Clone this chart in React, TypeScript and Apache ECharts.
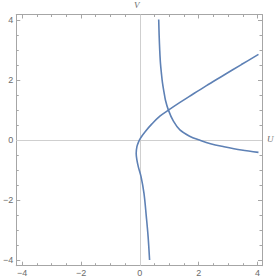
import React, { useEffect, useRef } from "react";
import * as echarts from "echarts";

// Curve 1 (decreasing branch), points as [U, V]
const curve1: [number, number][] = [
  [0.64, 4.02], [0.655, 3.5], [0.675, 3.0], [0.7, 2.56], [0.735, 2.2], [0.77, 1.9],
  [0.82, 1.6], [0.87, 1.33], [0.97, 1.0], [1.14, 0.63], [1.36, 0.34], [1.69, 0.13],
  [2.03, 0.0], [2.4, -0.12], [2.86, -0.22], [3.45, -0.33], [4.03, -0.41],
];

// Curve 2 (S-shaped branch), points as [U, V]
const curve2: [number, number][] = [
  [0.33, -4.0], [0.28, -3.22], [0.22, -2.56], [0.14, -1.78], [0.04, -1.22],
  [-0.05, -0.9], [-0.1, -0.67], [-0.125, -0.45], [-0.1, -0.22], [-0.04, -0.05],
  [0.03, 0.08], [0.18, 0.28], [0.41, 0.54], [0.68, 0.8], [0.97, 1.0], [1.35, 1.25],
  [1.67, 1.45], [2.25, 1.81], [2.86, 2.17], [3.45, 2.52], [4.03, 2.86],
];

const majorTicks = [-4, -2, 0, 2, 4];
const minorTicks = [-4, -3.5, -3, -2.5, -2, -1.5, -1, -0.5, 0, 0.5, 1, 1.5, 2, 2.5, 3, 3.5, 4];

const X_MIN = -4.2, X_MAX = 4.15, Y_MIN = -4.19, Y_MAX = 4.19;
const FRAME = "#a6a6a6";
const LABEL = "#6b6b6b";
const CURVE = "#5E81B5";

const fmt = (v: number) => (v < 0 ? "\u2212" + Math.abs(v) : String(v));

function makeAxis(kind: "x" | "y", position: string, major: boolean, labels: boolean) {
  return {
    type: "value",
    position,
    min: kind === "x" ? X_MIN : Y_MIN,
    max: kind === "x" ? X_MAX : Y_MAX,
    axisLine: { show: major, onZero: false, lineStyle: { color: FRAME, width: 1 } },
    axisTick: {
      show: true,
      inside: true,
      length: major ? 4 : 2.5,
      customValues: major ? majorTicks : minorTicks,
      lineStyle: { color: FRAME, width: 1 },
    },
    axisLabel: {
      show: labels,
      customValues: majorTicks,
      formatter: fmt,
      color: LABEL,
      fontSize: 9,
      fontFamily: "Liberation Sans",
      margin: 3,
    },
    splitLine: { show: false },
  };
}

export default function App() {
  const ref = useRef<HTMLDivElement>(null);
  useEffect(() => {
    if (!ref.current) return;
    const chart = echarts.init(ref.current, null, { renderer: "svg" });
    chart.setOption({
      animation: false,
      backgroundColor: "#ffffff",
      grid: { left: 11.5, right: 13, top: 14.5, bottom: 13.3, containLabel: false },
      xAxis: [
        makeAxis("x", "bottom", true, true),
        makeAxis("x", "bottom", false, false),
        makeAxis("x", "top", true, false),
        makeAxis("x", "top", false, false),
      ],
      yAxis: [
        makeAxis("y", "left", true, true),
        makeAxis("y", "left", false, false),
        makeAxis("y", "right", true, false),
        makeAxis("y", "right", false, false),
      ],
      graphic: [
        {
          type: "text",
          left: 134,
          top: 0,
          style: { text: "V", fill: LABEL, font: "italic 9px 'Liberation Serif'" },
        },
        {
          type: "text",
          left: 267,
          top: 134,
          style: { text: "U", fill: LABEL, font: "italic 9px 'Liberation Serif'" },
        },
      ],
      series: [
        {
          type: "line",
          xAxisIndex: 0,
          yAxisIndex: 0,
          data: [],
          silent: true,
          markLine: {
            silent: true,
            symbol: "none",
            label: { show: false },
            lineStyle: { color: "#cfcfcf", width: 1, type: "solid" },
            data: [{ xAxis: 0 }, { yAxis: 0 }],
          },
        },
        {
          type: "line",
          xAxisIndex: 0,
          yAxisIndex: 0,
          data: curve1,
          showSymbol: false,
          smooth: 0.35,
          z: 5,
          lineStyle: { color: CURVE, width: 1.6 },
        },
        {
          type: "line",
          xAxisIndex: 0,
          yAxisIndex: 0,
          data: curve2,
          showSymbol: false,
          smooth: 0.35,
          z: 5,
          lineStyle: { color: CURVE, width: 1.6 },
        },
      ],
    });
    return () => chart.dispose();
  }, []);
  return (
    <div
      ref={ref}
      style={{ position: "absolute", left: 0, top: 0, width: 275, height: 279, background: "#fff" }}
    />
  );
}
